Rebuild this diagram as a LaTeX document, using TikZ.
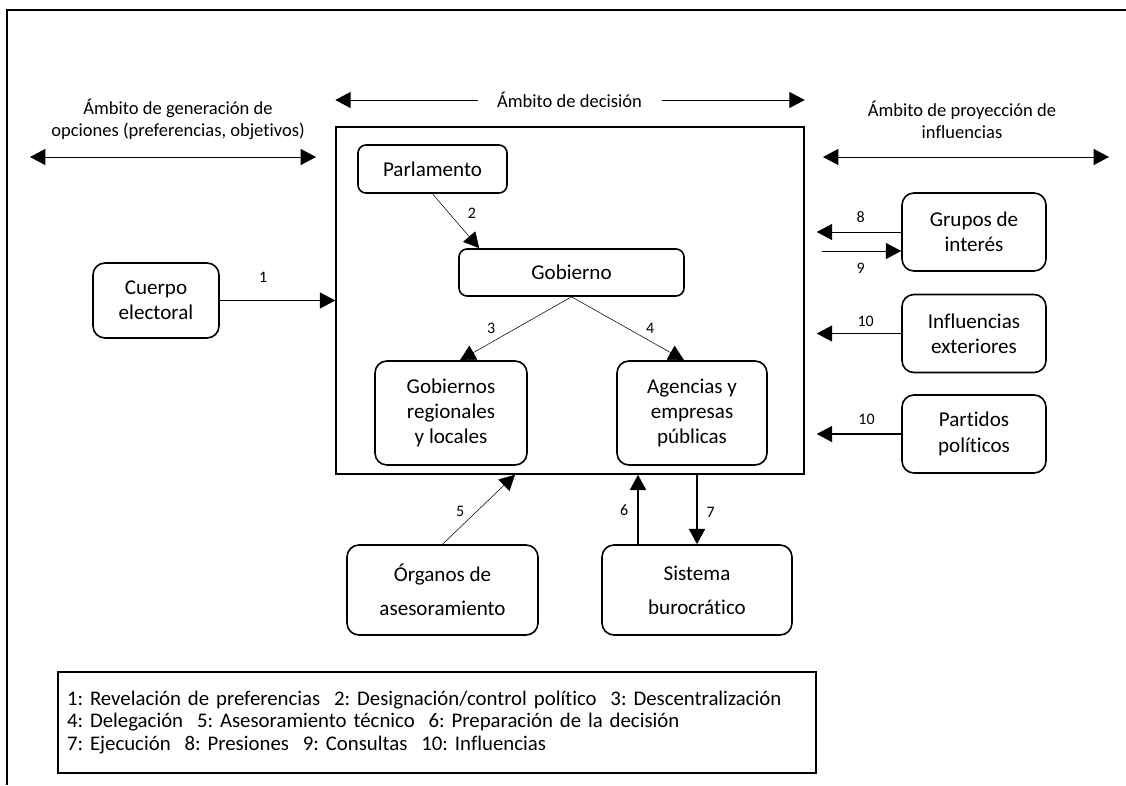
\documentclass[tikz,border=0pt]{standalone}
\usepackage{fontspec}
\setmainfont{Carlito}[Ligatures=NoCommon]
\usetikzlibrary{arrows.meta}
\frenchspacing

\begin{document}
\begin{tikzpicture}[x=0.75pt,y=-0.75pt,>={Triangle[length=11.5pt,width=12pt]},
every node/.style={font=\fontsize{15.8}{19}\selectfont},
box/.style={draw,line width=1.2pt,rounded corners=9pt,align=center},
tall/.style={font=\fontsize{15.8}{25.5}\selectfont},
ambito/.style={font=\fontsize{13.9}{16.5}\selectfont,align=center},
num/.style={font=\fontsize{12}{14}\selectfont,inner sep=1pt}]
\useasboundingbox (0,0) rectangle (1126,785);
\draw[line width=1pt] (7,785) -- (7,10) -- (1126,10);
% ambitos
\node[ambito] (amgen) at (178,119) {Ámbito de generación de\\opciones (preferencias, objetivos)};
\node[ambito] (amdec) at (569.5,100) {Ámbito de decisión};
\node[ambito] (ampro) at (962,120) {Ámbito de proyección de\\influencias};
\coordinate (gl) at (30,157);
\coordinate (gr) at (316,157);
\coordinate (pl) at (823,157);
\coordinate (pr) at (1109,157);
% nodos
\node[draw,line width=1.1pt,minimum width=351pt,minimum height=260.25pt] (dec) at (570,300.5) {};
\node[box,rounded corners=6pt,minimum width=111.75pt,minimum height=36pt] (parl) at (432.5,169) {Parlamento};
\node[box,rounded corners=6pt,minimum width=168.75pt,minimum height=35.25pt] (gob) at (571.5,272.5) {Gobierno};
\node[box,minimum width=114pt,minimum height=78pt] (greg) at (451,413) {Gobiernos\\regionales\\y locales};
\node[box,minimum width=112.5pt,minimum height=78pt] (agen) at (692,413) {Agencias y\\empresas\\públicas};
\node[box,minimum width=94.5pt,minimum height=56.25pt] (cuer) at (156,300.5) {Cuerpo\\electoral};
\node[box,minimum width=108pt,minimum height=58.5pt] (grup) at (974,232) {Grupos de\\interés};
\node[box,minimum width=108pt,minimum height=58.5pt] (infl) at (974,333.5) {Influencias\\exteriores};
\node[box,minimum width=108pt,minimum height=58.5pt] (part) at (974,434) {Partidos\\políticos};
\node[box,tall,minimum width=143.25pt,minimum height=67.5pt] (orga) at (442.5,590) {Órganos de\\asesoramiento};
\node[box,tall,minimum width=142.5pt,minimum height=67.5pt] (sist) at (697,590) {Sistema\\burocrático};
\node[draw,line width=1pt,minimum width=568.5pt,minimum height=75.75pt,text width=555pt,align=left,
  font=\fontsize{15.6}{17}\selectfont] (ley) at (437,722.5)
{1: Revelación de preferencias~ 2: Designación/control político~ 3: Descentralización\\
 4: Delegación~ 5: Asesoramiento técnico~ 6: Preparación de la decisión\\
 7: Ejecución~ 8: Presiones~ 9: Consultas~ 10: Influencias};
\coordinate (rim) at ([xshift=9pt]dec.east);
\coordinate (rim9) at ([xshift=12.75pt]dec.east);
\coordinate (c9) at ([yshift=-14.25pt]grup.west);
\coordinate (c6) at ([xshift=-44.25pt]sist.north);
\coordinate (c7) at (sist.north);
% flechas
\draw[<->,line width=0.7pt] (gl) -- (gr);
\draw[<->,line width=0.7pt] (pl) -- (pr);
\draw[->,line width=0.7pt] ([xshift=-10.5pt]amdec.west) -- (amdec.west -| dec.west);
\draw[->,line width=0.7pt] ([xshift=11.25pt]amdec.east) -- (amdec.east -| dec.east);
\draw[->,line width=0.7pt] (cuer) -- node[num,pos=0.376,above=12pt] {1} (dec);
\draw[->,line width=0.4pt] (parl.south) -- node[num,pos=0.35,right=13pt] {2} ([xshift=15.75pt]gob.north west);
\draw[->,line width=0.4pt] (gob.south) -- node[num,pos=0.72,above=5.5pt] {3} ([xshift=6.75pt]greg.north);
\draw[->,line width=0.4pt] (gob.south) -- node[num,pos=0.7,above=4.5pt] {4} ([xshift=-6pt]agen.north);
\draw[->,line width=0.4pt] (orga.north) -- node[num,pos=0.47,left=8pt] {5} ([xshift=-41.25pt]dec.south);
\draw[->,line width=1.5pt] (c6) -- node[num,pos=0.485,left=5.5pt] {6} (c6 |- dec.south);
\draw[->,line width=1.5pt] (c7 |- dec.south) -- node[num,pos=0.54,right=5.5pt] {7} (c7);
\draw[->,line width=0.7pt] (grup.west) -- node[num,pos=0.48,above=5.5pt] {8} (grup.west -| rim);
\draw[->,line width=0.7pt] (c9 -| rim9) -- node[num,pos=0.49,below=7.5pt] {9} (c9);
\draw[->,line width=0.7pt] (infl.west) -- node[num,pos=0.42,above=4pt] {10} (infl.west -| rim);
\draw[->,line width=1.2pt] (part.west) -- node[num,pos=0.41,above=5.5pt] {10} (part.west -| rim);
\end{tikzpicture}
\end{document}
